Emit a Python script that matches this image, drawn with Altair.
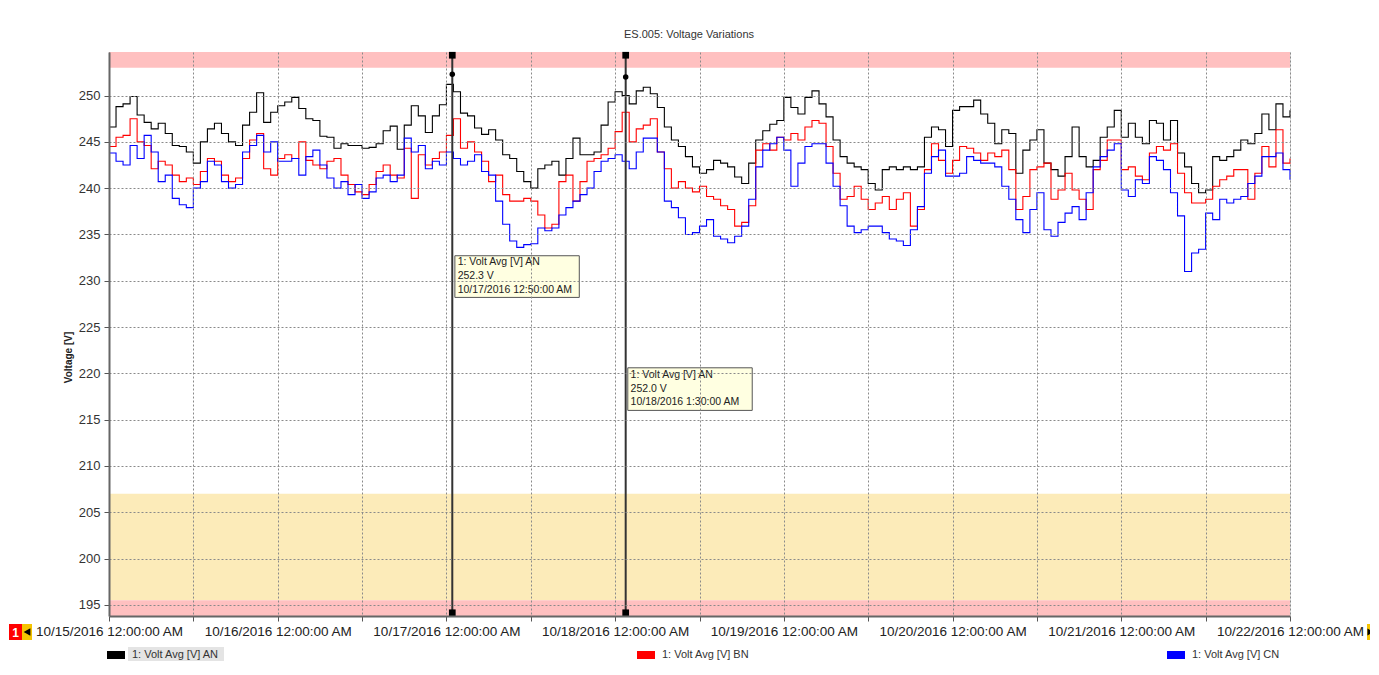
import altair as alt
import pandas as pd
from datetime import datetime, timezone

# ---------------- data (hourly readings, 10/15/2016 00:00 .. 10/22/2016 00:00) ----------------
chart_title = "ES.005: Voltage Variations"
series_names = ["1: Volt Avg [V] AN", "1: Volt Avg [V] BN", "1: Volt Avg [V] CN"]
series_colors = ["#000000", "#ff0000", "#0000ff"]

volt_an = [
    # 10/15
    246.6, 248.8, 249.1, 249.9, 247.9, 247.1, 246.4, 247.0, 245.9, 244.6, 244.5, 243.9,
    242.7, 245.0, 246.4, 247.0, 245.9, 245.0, 244.6, 246.8, 248.2, 250.3, 247.1, 248.2,
    # 10/16
    248.9, 249.3, 249.8, 248.6, 247.5, 247.3, 245.6, 245.5, 244.3, 244.8, 244.6, 244.6,
    244.3, 244.4, 244.8, 246.2, 246.7, 244.2, 246.8, 248.9, 247.8, 246.0, 247.8, 249.0,
    # 10/17
    251.2, 250.4, 248.1, 247.8, 246.5, 245.8, 246.3, 245.2, 243.6, 243.2, 241.8, 240.7,
    240.0, 242.1, 242.5, 242.9, 241.4, 243.2, 245.4, 243.6, 243.6, 243.9, 246.8, 249.3,
    # 10/18
    250.4, 250.0, 249.1, 250.5, 250.9, 250.2, 248.7, 246.6, 245.2, 244.5, 243.4, 242.3,
    241.6, 242.0, 243.0, 242.7, 242.3, 241.2, 240.5, 242.7, 245.2, 246.2, 246.9, 247.3,
    # 10/19
    249.8, 248.7, 248.0, 249.8, 250.5, 249.1, 247.7, 245.2, 243.4, 242.7, 242.3, 242.0,
    240.5, 239.8, 242.0, 242.3, 242.0, 242.3, 242.0, 242.3, 245.5, 246.6, 246.3, 244.5,
    # 10/20
    248.4, 248.8, 248.8, 249.5, 248.0, 247.0, 244.8, 246.3, 245.9, 241.6, 244.1, 245.2,
    246.3, 242.7, 242.0, 241.3, 243.4, 246.6, 243.4, 242.3, 243.0, 245.5, 246.6, 248.4,
    # 10/21
    245.5, 247.0, 245.5, 244.8, 247.3, 247.0, 245.2, 247.3, 243.8, 242.3, 240.5, 239.5,
    239.8, 243.4, 243.0, 243.4, 244.1, 245.2, 244.8, 245.9, 248.0, 246.3, 249.1, 247.7,
    # 10/22 00:00
    248.4,
]

volt_bn = [
    244.5, 245.5, 245.7, 247.5, 245.0, 244.6, 242.1, 242.9, 242.5, 241.4, 240.7, 241.1,
    240.4, 241.8, 243.2, 242.9, 241.4, 240.7, 241.1, 243.2, 245.2, 245.9, 242.1, 241.4,
    243.2, 243.6, 243.2, 245.0, 243.0, 242.5, 242.1, 242.9, 243.2, 241.4, 240.4, 239.6,
    239.3, 240.4, 241.8, 242.5, 241.4, 241.1, 244.3, 238.9, 243.6, 242.5, 243.2, 243.9,
    245.7, 247.5, 244.3, 245.0, 243.9, 242.9, 240.7, 241.4, 239.3, 238.6, 238.6, 238.9,
    238.6, 237.1, 235.7, 236.1, 240.7, 241.4, 238.6, 240.7, 242.9, 243.2, 243.6, 244.3,
    246.1, 248.2, 245.0, 246.4, 246.8, 247.5, 243.9, 242.1, 240.0, 240.7, 240.0, 239.6,
    240.2, 239.1, 238.8, 238.1, 237.7, 235.9, 236.3, 238.1, 244.1, 244.8, 244.1, 245.5,
    245.2, 245.9, 245.2, 246.6, 247.3, 247.0, 244.5, 241.6, 238.8, 239.1, 240.2, 238.8,
    237.7, 238.4, 239.1, 237.7, 238.8, 239.5, 235.9, 237.7, 242.0, 244.8, 243.0, 241.6,
    243.0, 244.5, 244.3, 243.8, 243.0, 243.8, 243.4, 244.1, 242.0, 237.7, 239.1, 242.0,
    242.3, 242.7, 238.8, 239.8, 241.6, 239.8, 238.8, 237.7, 242.0, 243.0, 245.2, 245.2,
    242.0, 242.3, 241.3, 240.9, 243.8, 244.5, 244.1, 244.8, 241.6, 239.5, 238.4, 238.4,
    238.8, 240.2, 240.9, 241.3, 242.0, 242.0, 238.8, 241.6, 244.5, 242.3, 246.3, 242.7,
    243.2,
]

volt_cn = [
    243.8, 242.9, 242.5, 244.6, 243.2, 245.7, 243.9, 240.7, 241.4, 238.9, 238.2, 237.9,
    240.0, 240.7, 242.9, 242.5, 240.7, 240.0, 240.4, 243.9, 244.6, 245.7, 243.9, 245.0,
    242.9, 242.9, 243.2, 241.4, 243.4, 244.1, 242.5, 241.1, 240.0, 240.7, 239.3, 240.4,
    238.9, 239.6, 241.1, 241.4, 240.7, 241.4, 245.4, 243.9, 244.6, 242.1, 242.9, 242.5,
    243.9, 243.2, 242.5, 242.9, 243.6, 241.8, 241.4, 238.6, 236.1, 234.3, 233.6, 233.9,
    234.0, 235.7, 235.4, 235.7, 237.1, 237.9, 238.6, 239.3, 240.0, 241.8, 242.9, 243.2,
    243.6, 242.9, 242.1, 243.9, 245.4, 245.4, 243.9, 238.6, 237.9, 236.8, 235.0, 235.2,
    235.9, 236.6, 234.8, 234.5, 234.1, 234.8, 235.9, 238.8, 242.3, 244.1, 244.8, 245.5,
    244.1, 240.2, 242.7, 244.5, 244.8, 244.8, 242.7, 240.2, 238.1, 235.9, 235.2, 235.5,
    235.9, 235.9, 235.2, 234.5, 234.3, 233.8, 235.5, 238.0, 241.6, 243.4, 244.1, 241.3,
    241.3, 241.6, 243.4, 243.0, 242.7, 242.7, 242.3, 240.2, 238.8, 236.6, 235.2, 237.7,
    239.5, 235.5, 234.8, 236.3, 237.3, 238.0, 236.6, 239.5, 242.3, 243.4, 244.1, 244.8,
    239.8, 239.1, 240.9, 240.5, 243.4, 243.0, 242.0, 239.5, 237.0, 231.0, 233.0, 233.4,
    237.3, 236.6, 238.8, 238.4, 238.8, 239.1, 240.5, 241.3, 243.4, 243.4, 243.8, 242.0,
    240.9,
]

# limit bands (V)
band_low = [253.0, 195.5, 193.0]
band_high = [255.0, 207.0, 195.5]
band_colors = ["#ffc0c0", "#fcebb9", "#ffc0c0"]

# cursors (hours after 10/15 00:00) and read-outs
cursor_hours = [48 + 50 / 60, 73.5]
cursor_values = [252.3, 252.0]
cursor_labels = [
    ["1: Volt Avg [V] AN", "252.3 V", "10/17/2016 12:50:00 AM"],
    ["1: Volt Avg [V] AN", "252.0 V", "10/18/2016 1:30:00 AM"],
]
box_left_h = [49.2, 73.8]
box_right_h = [66.9, 91.5]
box_top_v = [232.7, 220.6]
box_bottom_v = [228.2, 216.0]
text_left_h = [49.6, 74.2]
text_line_v = [[232.0, 230.5, 229.0], [219.8, 218.3, 216.9]]

Y_MIN, Y_MAX = 193.8, 254.7
HOUR_MS = 3600 * 1000
T0 = int(datetime(2016, 10, 15, tzinfo=timezone.utc).timestamp() * 1000)


def hms(h):
    return T0 + h * HOUR_MS


# ---------------- tables ----------------
rows = []
for name, vals in zip(series_names, [volt_an, volt_bn, volt_cn]):
    for h, v in enumerate(vals):
        rows.append({"t": hms(h), "v": v, "series": name})
lines_df = pd.DataFrame(rows)

bands_df = pd.DataFrame({"lo": band_low, "hi": band_high, "c": band_colors})
cursor_df = pd.DataFrame({
    "t": [hms(h) for h in cursor_hours],
    "v": cursor_values,
    "top": [Y_MAX - 0.35] * 2,
    "bot": [Y_MIN + 0.35] * 2,
})
box_df = pd.DataFrame({
    "t1": [hms(h) for h in box_left_h],
    "t2": [hms(h) for h in box_right_h],
    "y1": box_top_v,
    "y2": box_bottom_v,
})
txt_rows = []
for i in range(2):
    for line, yv in zip(cursor_labels[i], text_line_v[i]):
        txt_rows.append({"t": hms(text_left_h[i]), "v": yv, "txt": line})
txt_df = pd.DataFrame(txt_rows)

FONT = "Liberation Sans"
x_scale = alt.Scale(type="utc", domain=[hms(0), hms(168)], nice=False)
y_scale = alt.Scale(domain=[Y_MIN, Y_MAX], nice=False, zero=False)

x_axis = alt.Axis(
    values=[hms(12 * i) for i in range(15)],
    labelExpr="utchours(datum.value) == 0 ? utcFormat(datum.value, '%m/%d/%Y %I:%M:%S %p') : ''",
    labelOverlap=False, labelFlush=False, grid=True, gridDash=[2, 2], gridColor="#8a8a8a",
    gridWidth=1, tickSize=5, tickColor="#555555", domainColor="#666666", domainWidth=2,
    labelFontSize=13.5, labelColor="#222222", labelPadding=3, labelFont=FONT, title=None, zindex=1,
)
y_axis = alt.Axis(
    values=[195 + 2.5 * i for i in range(24)],
    labelExpr="datum.value % 5 == 0 ? format(datum.value, 'd') : ''",
    labelOverlap=False, grid=True, gridDash=[2, 2], gridColor="#8a8a8a", gridWidth=1,
    tickSize=5, tickColor="#555555", domainColor="#666666", domainWidth=2,
    labelFontSize=13, labelColor="#333333", labelPadding=4, labelFont=FONT,
    title="Voltage [V]", titleFontSize=10, titleFontWeight="bold", titleFont=FONT,
    titleColor="#222222", titleX=-36, titleY=305, zindex=1,
)

bands = alt.Chart(bands_df).mark_rect(clip=True).encode(
    y=alt.Y("lo:Q", scale=y_scale, axis=y_axis),
    y2="hi:Q",
    color=alt.Color("c:N", scale=None, legend=None),
)

lines = alt.Chart(lines_df).mark_line(interpolate="step-after", strokeWidth=1.1).encode(
    x=alt.X("t:T", scale=x_scale, axis=x_axis),
    y=alt.Y("v:Q", scale=y_scale),
    color=alt.Color(
        "series:N",
        scale=alt.Scale(domain=series_names, range=series_colors),
        legend=alt.Legend(
            orient="none", legendX=-6, legendY=590, direction="horizontal", columns=3,
            columnPadding=401, title=None, symbolType="stroke", symbolSize=324,
            symbolStrokeWidth=8, labelFontSize=11, labelColor="#333333", labelFont=FONT,
            labelOffset=3, padding=0,
        ),
    ),
    order="t:Q",
)

rules = alt.Chart(cursor_df).mark_rule(color="#333333", strokeWidth=2).encode(
    x=alt.X("t:T", scale=x_scale),
)
dots = alt.Chart(cursor_df).mark_circle(color="#000000", size=30, opacity=1).encode(
    x=alt.X("t:T", scale=x_scale), y=alt.Y("v:Q", scale=y_scale),
)
handle_top = alt.Chart(cursor_df).mark_point(shape="square", filled=True, color="#000000", size=45, opacity=1).encode(
    x=alt.X("t:T", scale=x_scale), y=alt.Y("top:Q", scale=y_scale),
)
handle_bot = alt.Chart(cursor_df).mark_point(shape="square", filled=True, color="#000000", size=45, opacity=1).encode(
    x=alt.X("t:T", scale=x_scale), y=alt.Y("bot:Q", scale=y_scale),
)
boxes = alt.Chart(box_df).mark_rect(fill="#ffffe1", stroke="#555555", strokeWidth=1).encode(
    x=alt.X("t1:T", scale=x_scale), x2="t2:T",
    y=alt.Y("y1:Q", scale=y_scale), y2="y2:Q",
)
texts = alt.Chart(txt_df).mark_text(align="left", baseline="middle", fontSize=10.5, font=FONT, color="#222222").encode(
    x=alt.X("t:T", scale=x_scale), y=alt.Y("v:Q", scale=y_scale), text="txt:N",
)

# title, small navigation widgets and frame around the chart window
one = alt.Data(values=[{"k": 1}])
title_txt = alt.Chart(one).mark_text(text=chart_title, fontSize=11, font=FONT, color="#333333",
                                     align="center", baseline="middle").encode(
    x=alt.value(580), y=alt.value(-17)
)
frame = alt.Chart(one).mark_rect(fill="transparent", stroke="#e6e6e6", strokeWidth=2).encode(
    x=alt.value(-102), x2=alt.value(1266), y=alt.value(-46), y2=alt.value(640)
)
legend_hl = alt.Chart(one).mark_rect(fill="#e4e4e4").encode(
    x=alt.value(19), x2=alt.value(115), y=alt.value(595), y2=alt.value(609)
)
red_box = alt.Chart(one).mark_rect(fill="#ff0000").encode(
    x=alt.value(-100), x2=alt.value(-87), y=alt.value(572), y2=alt.value(588)
)
red_txt = alt.Chart(one).mark_text(text="1", color="white", fontWeight="bold", fontSize=12, font=FONT).encode(
    x=alt.value(-93.5), y=alt.value(580.5)
)
yel_l = alt.Chart(one).mark_rect(fill="#f5c400").encode(
    x=alt.value(-87), x2=alt.value(-77), y=alt.value(572), y2=alt.value(588)
)
tri_l = alt.Chart(one).mark_point(shape="triangle-left", filled=True, color="#000000", size=60, opacity=1).encode(
    x=alt.value(-82), y=alt.value(580)
)
yel_r = alt.Chart(one).mark_rect(fill="#f5c400").encode(
    x=alt.value(1258), x2=alt.value(1266), y=alt.value(572), y2=alt.value(588)
)
tri_r = alt.Chart(one).mark_point(shape="triangle-right", filled=True, color="#000000", size=50, opacity=1).encode(
    x=alt.value(1261.5), y=alt.value(580)
)

chart = alt.layer(
    frame, bands, legend_hl, lines, rules, handle_top, handle_bot, dots, boxes, texts,
    title_txt, red_box, red_txt, yel_l, tri_l, yel_r, tri_r,
).resolve_scale(color="independent").properties(
    width=1181, height=564,
    autosize=alt.AutoSizeParams(type="none"),
    padding={"left": 101, "top": 44, "right": 80, "bottom": 50},
).configure_view(stroke="#9a9a9a", strokeWidth=1).configure(background="white")

chart.save("out.html", embed_options={"renderer": "svg", "actions": False})
